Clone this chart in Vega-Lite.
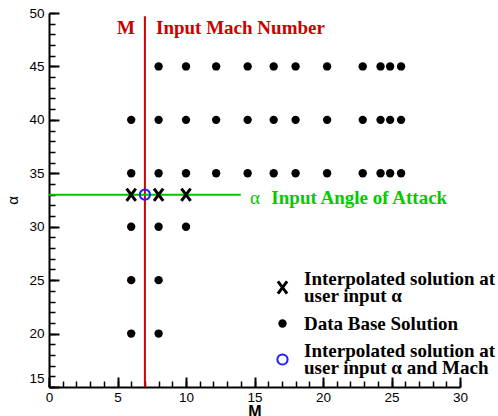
{
  "$schema": "https://vega.github.io/schema/vega-lite/v6.json",
  "width": 411,
  "height": 374,
  "autosize": {"type": "none"},
  "padding": {"left": 49, "top": 13, "right": 38, "bottom": 29},
  "background": "white",
  "config": {
    "view": {"stroke": null},
    "axis": {"grid": false, "domainColor": "black", "tickColor": "black", "labelColor": "black", "titleColor": "black"},
    "style": {"guide-label": {"lineHeight": 17}},
    "legend": {"orient": "none", "legendX": 224, "legendY": 265, "padding": 0, "rowPadding": 8, "labelOffset": 12, "labelLimit": 400, "labelFont": "Liberation Serif", "labelFontWeight": "bold", "labelFontSize": 19, "labelColor": "black"}
  },
  "resolve": {"axis": {"x": "independent", "y": "independent"}},
  "layer": [
    {
      "data": {"values": [{"M": 7, "a1": 15, "a2": 49.7}]},
      "mark": {"type": "rule", "color": "#d40000", "strokeWidth": 2},
      "encoding": {
        "x": {"field": "M", "type": "quantitative", "scale": {"domain": [0, 30], "nice": false, "zero": false},
          "axis": {"orient": "bottom", "values": [0,1,2,3,4,5,6,7,8,9,10,11,12,13,14,15,16,17,18,19,20,21,22,23,24,25,26,27,28,29,30], "tickSize": -6, "tickWidth": 1.5, "labels": false, "domain": false, "title": null}},
        "y": {"field": "a1", "type": "quantitative", "scale": {"domain": [15, 50], "nice": false, "zero": false},
          "axis": {"orient": "left", "values": [15,16,17,18,19,20,21,22,23,24,25,26,27,28,29,30,31,32,33,34,35,36,37,38,39,40,41,42,43,44,45,46,47,48,49,50], "tickSize": -6, "tickWidth": 1.5, "labels": false, "domain": false, "title": null}},
        "y2": {"field": "a2"}
      }
    },
    {
      "data": {"values": [{"M1": 0, "M2": 14, "alpha": 33}]},
      "mark": {"type": "rule", "color": "#00c400", "strokeWidth": 2},
      "encoding": {
        "x": {"field": "M1", "type": "quantitative", "scale": {"domain": [0, 30], "nice": false, "zero": false}, "axis": null},
        "x2": {"field": "M2"},
        "y": {"field": "alpha", "type": "quantitative", "scale": {"domain": [15, 50], "nice": false, "zero": false}, "axis": null}
      }
    },
    {
      "data": {"values": [
        {"M": 8, "alpha": 45, "kind": "db"}, {"M": 10, "alpha": 45, "kind": "db"}, {"M": 12.2, "alpha": 45, "kind": "db"}, {"M": 14.5, "alpha": 45, "kind": "db"}, {"M": 16.4, "alpha": 45, "kind": "db"}, {"M": 18, "alpha": 45, "kind": "db"}, {"M": 20.3, "alpha": 45, "kind": "db"}, {"M": 22.9, "alpha": 45, "kind": "db"}, {"M": 24.2, "alpha": 45, "kind": "db"}, {"M": 24.9, "alpha": 45, "kind": "db"}, {"M": 25.7, "alpha": 45, "kind": "db"},
        {"M": 6, "alpha": 40, "kind": "db"}, {"M": 8, "alpha": 40, "kind": "db"}, {"M": 10, "alpha": 40, "kind": "db"}, {"M": 12.2, "alpha": 40, "kind": "db"}, {"M": 14.5, "alpha": 40, "kind": "db"}, {"M": 16.4, "alpha": 40, "kind": "db"}, {"M": 18, "alpha": 40, "kind": "db"}, {"M": 20.3, "alpha": 40, "kind": "db"}, {"M": 22.9, "alpha": 40, "kind": "db"}, {"M": 24.2, "alpha": 40, "kind": "db"}, {"M": 24.9, "alpha": 40, "kind": "db"}, {"M": 25.7, "alpha": 40, "kind": "db"},
        {"M": 6, "alpha": 35, "kind": "db"}, {"M": 8, "alpha": 35, "kind": "db"}, {"M": 10, "alpha": 35, "kind": "db"}, {"M": 12.2, "alpha": 35, "kind": "db"}, {"M": 14.5, "alpha": 35, "kind": "db"}, {"M": 16.4, "alpha": 35, "kind": "db"}, {"M": 18, "alpha": 35, "kind": "db"}, {"M": 20.3, "alpha": 35, "kind": "db"}, {"M": 22.9, "alpha": 35, "kind": "db"}, {"M": 24.2, "alpha": 35, "kind": "db"}, {"M": 24.9, "alpha": 35, "kind": "db"}, {"M": 25.7, "alpha": 35, "kind": "db"},
        {"M": 6, "alpha": 30, "kind": "db"}, {"M": 8, "alpha": 30, "kind": "db"}, {"M": 10, "alpha": 30, "kind": "db"},
        {"M": 6, "alpha": 25, "kind": "db"}, {"M": 8, "alpha": 25, "kind": "db"},
        {"M": 6, "alpha": 20, "kind": "db"}, {"M": 8, "alpha": 20, "kind": "db"},
        {"M": 6, "alpha": 33, "kind": "interp"}, {"M": 8, "alpha": 33, "kind": "interp"}, {"M": 10, "alpha": 33, "kind": "interp"},
        {"M": 7, "alpha": 33, "kind": "input"}
      ]},
      "mark": {"type": "point", "opacity": 1},
      "encoding": {
        "x": {"field": "M", "type": "quantitative", "scale": {"domain": [0, 30], "nice": false, "zero": false},
          "axis": {"orient": "bottom", "values": [0, 5, 10, 15, 20, 25, 30], "tickSize": -10, "tickWidth": 2, "domainWidth": 2, "labelPadding": 13, "labelFlush": false, "labelOverlap": false, "labelFont": "Liberation Sans", "labelFontSize": 13.5, "title": "M", "titleFont": "Liberation Sans", "titleFontWeight": "bold", "titleFontSize": 16, "titlePadding": 0}},
        "y": {"field": "alpha", "type": "quantitative", "scale": {"domain": [15, 50], "nice": false, "zero": false},
          "axis": {"orient": "left", "values": [15, 20, 25, 30, 35, 40, 45, 50], "tickSize": -10, "tickWidth": 2, "domainWidth": 2, "labelPadding": 15, "labelFlush": false, "labelOverlap": false, "labelFont": "Liberation Sans", "labelFontSize": 13.5, "labelOffset": {"condition": {"test": "datum.value == 15", "value": -9}, "value": 0}, "title": "α", "titleFont": "Liberation Sans", "titleFontWeight": "normal", "titleFontSize": 15, "titlePadding": 8}},
        "size": {"field": "kind", "type": "nominal", "scale": {"type": "ordinal", "domain": ["interp", "db", "input"], "range": [150, 70, 105]},
          "legend": {"title": null, "labelExpr": "datum.value == 'interp' ? ['Interpolated solution at', 'user input α'] : datum.value == 'db' ? 'Data Base Solution' : ['Interpolated solution at', 'user input α and Mach']",
            "encoding": {"labels": {"dy": {"condition": {"test": "datum.value == 'db'", "value": 0}, "value": -8.5}}}}},
        "shape": {"field": "kind", "type": "nominal",
          "scale": {"domain": ["interp", "db", "input"], "range": ["M-0.75,-1L0.75,1M0.75,-1L-0.75,1", "circle", "circle"]},
          "legend": {"title": null, "labelExpr": "datum.value == 'interp' ? ['Interpolated solution at', 'user input α'] : datum.value == 'db' ? 'Data Base Solution' : ['Interpolated solution at', 'user input α and Mach']",
            "encoding": {"labels": {"dy": {"condition": {"test": "datum.value == 'db'", "value": 0}, "value": -8.5}}}}},
        "fill": {"field": "kind", "type": "nominal", "scale": {"domain": ["interp", "db", "input"], "range": ["transparent", "black", "transparent"]},
          "legend": {"title": null, "labelExpr": "datum.value == 'interp' ? ['Interpolated solution at', 'user input α'] : datum.value == 'db' ? 'Data Base Solution' : ['Interpolated solution at', 'user input α and Mach']",
            "encoding": {"labels": {"dy": {"condition": {"test": "datum.value == 'db'", "value": 0}, "value": -8.5}}}}},
        "stroke": {"field": "kind", "type": "nominal", "scale": {"domain": ["interp", "db", "input"], "range": ["black", "black", "#1f1fff"]},
          "legend": {"title": null, "labelExpr": "datum.value == 'interp' ? ['Interpolated solution at', 'user input α'] : datum.value == 'db' ? 'Data Base Solution' : ['Interpolated solution at', 'user input α and Mach']",
            "encoding": {"labels": {"dy": {"condition": {"test": "datum.value == 'db'", "value": 0}, "value": -8.5}}}}},
        "strokeWidth": {"field": "kind", "type": "nominal", "scale": {"type": "ordinal", "domain": ["interp", "db", "input"], "range": [3, 0, 2]},
          "legend": {"title": null, "labelExpr": "datum.value == 'interp' ? ['Interpolated solution at', 'user input α'] : datum.value == 'db' ? 'Data Base Solution' : ['Interpolated solution at', 'user input α and Mach']",
            "encoding": {"labels": {"dy": {"condition": {"test": "datum.value == 'db'", "value": 0}, "value": -8.5}}}}}
      }
    },
    {
      "data": {"values": [{"M": 4.96, "alpha": 48, "label": "M"}, {"M": 7.81, "alpha": 48, "label": "Input Mach Number"}]},
      "mark": {"type": "text", "align": "left", "baseline": "alphabetic", "font": "Liberation Serif", "fontWeight": "bold", "fontSize": 19, "color": "#cc0000"},
      "encoding": {
        "x": {"field": "M", "type": "quantitative", "scale": {"domain": [0, 30], "nice": false, "zero": false}, "axis": null},
        "y": {"field": "alpha", "type": "quantitative", "scale": {"domain": [15, 50], "nice": false, "zero": false}, "axis": null},
        "text": {"field": "label"}
      }
    },
    {
      "data": {"values": [{"M": 14.67, "alpha": 32.13, "label": "α"}]},
      "mark": {"type": "text", "align": "left", "baseline": "alphabetic", "font": "Liberation Serif", "fontWeight": "normal", "fontSize": 19, "color": "#00cc00"},
      "encoding": {
        "x": {"field": "M", "type": "quantitative", "scale": {"domain": [0, 30], "nice": false, "zero": false}, "axis": null},
        "y": {"field": "alpha", "type": "quantitative", "scale": {"domain": [15, 50], "nice": false, "zero": false}, "axis": null},
        "text": {"field": "label"}
      }
    },
    {
      "data": {"values": [{"M": 16.23, "alpha": 32.13, "label": "Input Angle of Attack"}]},
      "mark": {"type": "text", "align": "left", "baseline": "alphabetic", "font": "Liberation Serif", "fontWeight": "bold", "fontSize": 19, "color": "#00cc00"},
      "encoding": {
        "x": {"field": "M", "type": "quantitative", "scale": {"domain": [0, 30], "nice": false, "zero": false}, "axis": null},
        "y": {"field": "alpha", "type": "quantitative", "scale": {"domain": [15, 50], "nice": false, "zero": false}, "axis": null},
        "text": {"field": "label"}
      }
    }
  ]
}
